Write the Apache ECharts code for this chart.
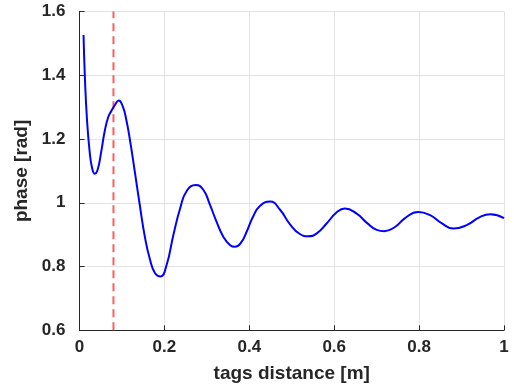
<!DOCTYPE html>
<html>
<head>
<meta charset="utf-8">
<script src="https://cdn.jsdelivr.net/npm/echarts@6/dist/echarts.min.js"></script>
<style>html,body{margin:0;padding:0;background:#fff;}#c{width:514px;height:389px;}</style>
</head>
<body>
<div id="c"></div>
<script>
var distance = [0.0095,0.0125,0.0175,0.024,0.030,0.036,0.043,0.051,0.059,0.067,0.075,0.083,0.0925,0.1025,0.110,0.119,0.130,0.142,0.154,0.166,0.178,0.191,0.205,0.221,0.237,0.2525,0.274,0.292,0.307,0.323,0.339,0.355,0.366,0.380,0.394,0.409,0.425,0.449,0.472,0.496,0.519,0.539,0.559,0.582,0.606,0.625,0.653,0.677,0.700,0.718,0.743,0.767,0.798,0.826,0.853,0.881,0.912,0.943,0.968,1.0];
var phase = [1.526,1.400,1.264,1.159,1.107,1.091,1.105,1.159,1.222,1.266,1.288,1.306,1.321,1.300,1.262,1.196,1.100,0.993,0.893,0.822,0.779,0.769,0.804,0.898,0.982,1.037,1.056,1.040,0.995,0.940,0.893,0.867,0.862,0.874,0.910,0.957,0.990,1.004,0.979,0.932,0.902,0.895,0.904,0.935,0.970,0.982,0.966,0.937,0.915,0.911,0.924,0.952,0.971,0.961,0.936,0.919,0.930,0.955,0.964,0.952];
var markerX = 0.08;
var xTicks = [0, 0.2, 0.4, 0.6, 0.8, 1];
var yTicks = [0.6, 0.8, 1, 1.2, 1.4, 1.6];

var font = 'Liberation Sans';
var txt = '#262626';
var chart = echarts.init(document.getElementById('c'), null, {renderer: 'canvas'});
var lineData = distance.map(function (d, i) { return [d, phase[i]]; });
chart.setOption({
  animation: false,
  backgroundColor: '#fff',
  grid: {left: 79.5, right: 10, top: 11.5, bottom: 58.7, containLabel: false},
  xAxis: {
    type: 'value', min: xTicks[0], max: xTicks[xTicks.length - 1], interval: 0.2,
    name: 'tags distance [m]', nameLocation: 'middle', nameGap: 34,
    nameTextStyle: {fontFamily: font, fontWeight: 'bold', fontSize: 19, color: txt, verticalAlign: 'top'},
    axisLine: {lineStyle: {color: txt, width: 1}},
    axisTick: {inside: true, length: 5, lineStyle: {color: txt}},
    axisLabel: {fontFamily: font, fontWeight: 'bold', fontSize: 17, color: txt, margin: 9,
      formatter: function (v) { return String(+v.toFixed(1)); }},
    splitLine: {show: true, lineStyle: {color: '#e3e3e3', width: 1}}
  },
  yAxis: {
    type: 'value', min: yTicks[0], max: yTicks[yTicks.length - 1], interval: 0.2,
    name: 'phase [rad]', nameLocation: 'middle', nameGap: 38, nameRotate: 90,
    nameTextStyle: {fontFamily: font, fontWeight: 'bold', fontSize: 19, color: txt},
    axisLine: {show: true, lineStyle: {color: txt, width: 1}},
    axisTick: {show: true, inside: true, length: 5, lineStyle: {color: txt}},
    axisLabel: {fontFamily: font, fontWeight: 'bold', fontSize: 17, color: txt, margin: 14,
      formatter: function (v) { return String(+v.toFixed(1)); }},
    splitLine: {show: true, lineStyle: {color: '#e3e3e3', width: 1}}
  },
  series: [
    {
      type: 'line', data: [[markerX, yTicks[0]], [markerX, yTicks[yTicks.length - 1]]],
      showSymbol: false, symbol: 'none', silent: true, z: 2,
      lineStyle: {color: '#ff5c5c', width: 2, type: [8, 5]}
    },
    {
      type: 'line', data: lineData, showSymbol: false, symbol: 'none', smooth: 0.5, z: 3,
      lineStyle: {color: '#0000ff', width: 2}
    }
  ]
});
</script>
</body>
</html>
